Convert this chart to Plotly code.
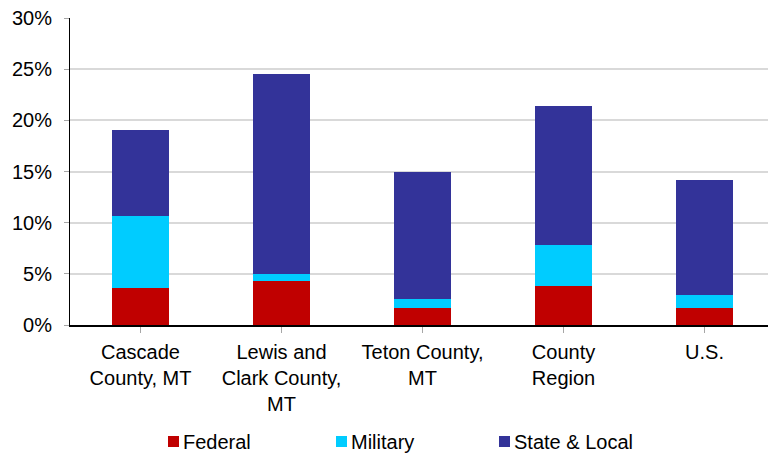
import plotly.graph_objects as go

# Categories and stacked shares of employment (%)
categories = ["Cascade<br>County, MT", "Lewis and<br>Clark County,<br>MT", "Teton County,<br>MT", "County<br>Region", "U.S."]
series_names = ["Federal", "Military", "State & Local"]
federal = [3.6, 4.3, 1.7, 3.8, 1.7]
military = [7.1, 0.7, 0.85, 4.0, 1.25]
state_local = [8.35, 19.55, 12.45, 13.6, 11.25]
y_ticks = [0, 5, 10, 15, 20, 25, 30]
y_tick_labels = ["0%", "5%", "10%", "15%", "20%", "25%", "30%"]

colors = ["#C00000", "#00CCFF", "#333399"]
FONT = "Liberation Sans, Arial, sans-serif"

W, H = 768, 456
L, R, T, B = 70, 0, 18, 131
pw, ph = W - L - R, H - T - B


def px_x(p):
    return (p - L) / pw


def px_y(p):
    return (H - B - p) / ph


fig = go.Figure()
for name, vals, col in zip(series_names, [federal, military, state_local], colors):
    fig.add_trace(go.Bar(
        x=list(range(len(categories))), y=vals, name=name,
        marker=dict(color=col, line=dict(width=0)),
        width=0.4, showlegend=False,
    ))

# Legend drawn as swatches + labels
legend_swatch_left = [168, 336, 499]
for name, col, x0 in zip(series_names, colors, legend_swatch_left):
    fig.add_shape(type="rect", xref="paper", yref="paper",
                  x0=px_x(x0), x1=px_x(x0 + 11), y0=px_y(436), y1=px_y(447),
                  fillcolor=col, line=dict(width=0))
    fig.add_annotation(xref="paper", yref="paper", x=px_x(x0 + 13), y=px_y(441.5),
                       text=name, showarrow=False, xanchor="left", yanchor="middle",
                       font=dict(family=FONT, size=20, color="#000000"))

fig.update_layout(
    width=W, height=H,
    margin=dict(l=L, r=R, t=T, b=B),
    barmode="stack",
    plot_bgcolor="white", paper_bgcolor="white",
    font=dict(family=FONT, size=20, color="#000000"),
    xaxis=dict(
        range=[-0.5, 4.45],
        tickmode="array", tickvals=list(range(len(categories))), ticktext=categories,
        tickson="boundaries", ticks="outside", ticklen=6, tickcolor="#A6A6A6", tickwidth=1,
        showline=True, linecolor="#000000", linewidth=1.5,
        showgrid=False, tickangle=0,
        ticklabelstandoff=2,
        tickfont=dict(family=FONT, size=20),
    ),
    yaxis=dict(
        range=[0, 30],
        tickmode="array", tickvals=y_ticks, ticktext=y_tick_labels,
        ticks="outside", ticklen=5, tickcolor="#A6A6A6", tickwidth=1,
        showline=True, linecolor="#000000", linewidth=1,
        showgrid=True, gridcolor="#D9D9D9", gridwidth=1.5,
        zeroline=False,
        ticklabelstandoff=8,
        tickfont=dict(family=FONT, size=20),
    ),
)

fig.write_html("out.html")
